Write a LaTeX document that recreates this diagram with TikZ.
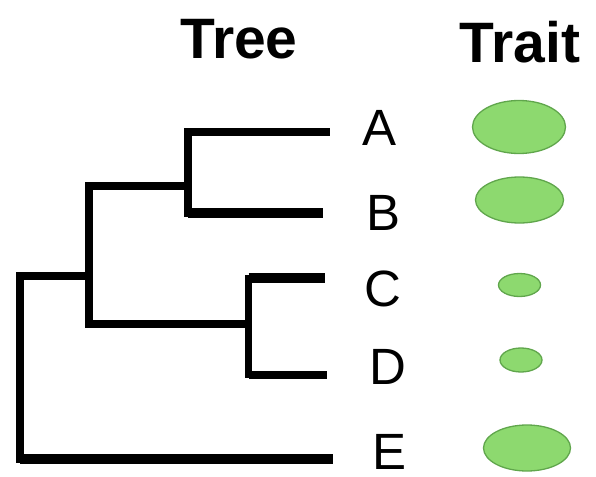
\documentclass[tikz,border=0pt]{standalone}
\usepackage{fontspec}
\setmainfont{Liberation Sans}
\usetikzlibrary{shapes.geometric}
\definecolor{traitfill}{RGB}{141,217,111}
\definecolor{traitedge}{RGB}{96,166,76}
\begin{document}
\begin{tikzpicture}[x=1pt,y=-1pt,
  stem/.style={draw=black,line cap=rect},
  branch/.style={draw=black,line cap=butt},
  heading/.style={font=\fontsize{57}{57}\selectfont\bfseries,anchor=base,inner sep=0pt},
  taxon/.style={font=\fontsize{51}{51}\selectfont,anchor=base,inner sep=0pt},
  trait/.style={ellipse,fill=traitfill,draw=traitedge,line width=1.3pt,inner sep=0pt}]
\useasboundingbox (0,0) rectangle (596,476);

% headings
\node[heading] (htree) at (239,59) {Tree};
\node[heading] (htrait) at (520,63) {Trait};

% internal nodes (where each clade hangs from its parent) and tips
\coordinate (root) at (20,276);
\coordinate (nABCD) at (89,276);
\coordinate (nAB) at (188,186);
\coordinate (nCD) at (248.5,324);
\coordinate (tA) at (330,132);
\coordinate (tB) at (323,213);
\coordinate (tC) at (325,278);
\coordinate (tD) at (327,375);
\coordinate (tE) at (333,459);

% vertical bars of the clades
\draw[stem,line width=8pt] (root) -- (root |- tE);
\draw[stem,line width=7.5pt] (nABCD |- nAB) -- (nABCD |- nCD);
\draw[stem,line width=8pt] (nAB |- tA) -- (nAB |- tB);
\draw[stem,line width=6.5pt] (nCD |- tC) -- (nCD |- tD);

% horizontal branches
\draw[branch,line width=8.5pt] (root) -- (nABCD);
\draw[branch,line width=10pt] (root |- tE) -- (tE);
\draw[branch,line width=7.5pt] (nABCD |- nAB) -- (nAB);
\draw[branch,line width=8pt] (nABCD |- nCD) -- (nCD);
\draw[branch,line width=7.5pt] (nAB |- tA) -- (tA);
\draw[branch,line width=9.5pt] (nAB |- tB) -- (tB);
\draw[branch,line width=9.5pt] (nCD |- tC) -- (tC);
\draw[branch,line width=8pt] (nCD |- tD) -- (tD);

% taxon labels
\node[taxon] (lA) at (380,145) {A};
\node[taxon] (lB) at (384,230) {B};
\node[taxon] (lC) at (383,306) {C};
\node[taxon] (lD) at (388,384) {D};
\node[taxon] (lE) at (390,469) {E};

% trait values
\node[trait,minimum width=93pt,minimum height=53pt] (eA) at (519,127) {};
\node[trait,minimum width=88pt,minimum height=46pt] (eB) at (519.5,200) {};
\node[trait,minimum width=42pt,minimum height=23pt] (eC) at (519.5,285) {};
\node[trait,minimum width=42pt,minimum height=24pt] (eD) at (521,360) {};
\node[trait,minimum width=87pt,minimum height=46pt] (eE) at (527,448) {};
\end{tikzpicture}
\end{document}
